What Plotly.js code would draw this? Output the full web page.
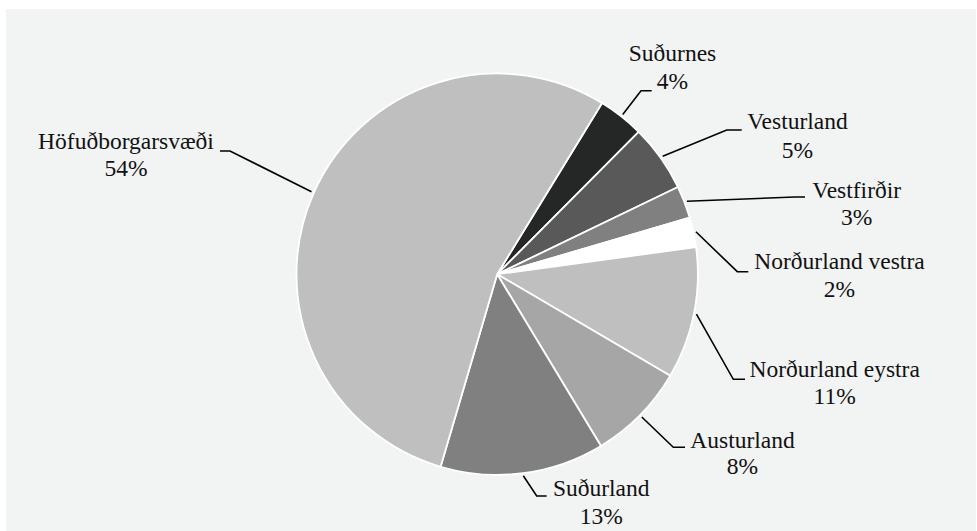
<!DOCTYPE html>
<html>
<head>
<meta charset="utf-8">
<script src="https://cdn.plot.ly/plotly-3.0.1.min.js"></script>
<style>
html,body{margin:0;padding:0;background:#fff;}
#chart{width:977px;height:531px;}
</style>
</head>
<body>
<div id="chart"></div>
<script>
// ---- data ----
const regions = ['Suðurnes', 'Vesturland', 'Vestfirðir', 'Norðurland vestra', 'Norðurland eystra', 'Austurland', 'Suðurland', 'Höfuðborgarsvæði'];
const shares = [3.7, 5.4, 2.6, 2.4, 10.6, 7.9, 13.2, 54.2];

// ---- style / layout ----
const sliceColors = ['#252726', '#595959', '#808080', '#ffffff', '#bfbfbf', '#a6a6a6', '#808080', '#bfbfbf'];
const W = 977, H = 531;
const CX = 497.2, CY = 274.2, R = 200.7;
const ROTATION = 31.5;
// label placement in pixels: [nameX, nameY, pctY, elbowX, elbowY, endX]
const labelPos = [
  [672.5, 55, 83, 641, 90.7, 651.7],
  [797.5, 123, 152, 726.7, 130, 741.7],
  [856.7, 191.7, 219.3, 795, 197, 805],
  [839.5, 263, 291.5, 737.3, 271.7, 748.3],
  [834.7, 370.7, 398, 733.3, 379.3, 745],
  [742.5, 441.7, 468.3, 673.3, 447.3, 685],
  [601.2, 490, 518.3, 536.7, 496, 546.7],
  [126, 143, 170, 230, 151, 220]
];
const FONT_FAMILY = 'Liberation Serif';
const FONT_SIZE = 23.5;
const FONT_COLOR = '#111111';

const px = x => x / W;
const py = y => 1 - y / H;

const total = shares.reduce((a, b) => a + b, 0);
let acc = 0;
const shapes = [{
  type: 'rect', xref: 'paper', yref: 'paper', layer: 'below',
  x0: px(6), x1: px(976), y0: 0, y1: py(9),
  fillcolor: '#f2f3f3', line: {width: 0}
}];
const tx = [], ty = [], tt = [];
shares.forEach((v, i) => {
  const mid = (ROTATION + (acc + v / 2) / total * 360) * Math.PI / 180;
  acc += v;
  const r0 = R + 2.5;
  const sx = CX + r0 * Math.sin(mid), sy = CY - r0 * Math.cos(mid);
  const [nx, ny, pyy, ex, ey, endX] = labelPos[i];
  shapes.push({
    type: 'path', xref: 'paper', yref: 'paper', layer: 'above',
    path: `M${px(sx)},${py(sy)} L${px(ex)},${py(ey)} L${px(endX)},${py(ey)}`,
    line: {color: '#000000', width: 1.6}
  });
  const pct = Math.round(v / total * 100) + '%';
  tx.push(nx, nx); ty.push(ny, pyy); tt.push(regions[i], pct);
});

const data = [{
  type: 'pie',
  labels: regions,
  values: shares,
  sort: false,
  direction: 'clockwise',
  rotation: ROTATION,
  textinfo: 'none',
  hoverinfo: 'label+percent',
  marker: {colors: sliceColors, line: {color: '#ffffff', width: 1.8}},
  domain: {x: [px(CX - R), px(CX + R)], y: [py(CY + R), py(CY - R)]},
  showlegend: false
}, {
  type: 'scatter', mode: 'text',
  x: tx, y: ty, text: tt,
  textposition: 'middle center',
  textfont: {family: FONT_FAMILY, size: FONT_SIZE, color: FONT_COLOR},
  hoverinfo: 'skip', showlegend: false, cliponaxis: false
}];

const layout = {
  width: W, height: H,
  margin: {l: 0, r: 0, t: 0, b: 0},
  paper_bgcolor: '#ffffff',
  plot_bgcolor: 'rgba(0,0,0,0)',
  showlegend: false,
  font: {family: FONT_FAMILY, size: 18, color: FONT_COLOR},
  xaxis: {range: [0, W], visible: false, fixedrange: true},
  yaxis: {range: [H, 0], visible: false, fixedrange: true},
  shapes: shapes
};

Plotly.newPlot('chart', data, layout, {displayModeBar: false, staticPlot: true});
</script>
</body>
</html>
